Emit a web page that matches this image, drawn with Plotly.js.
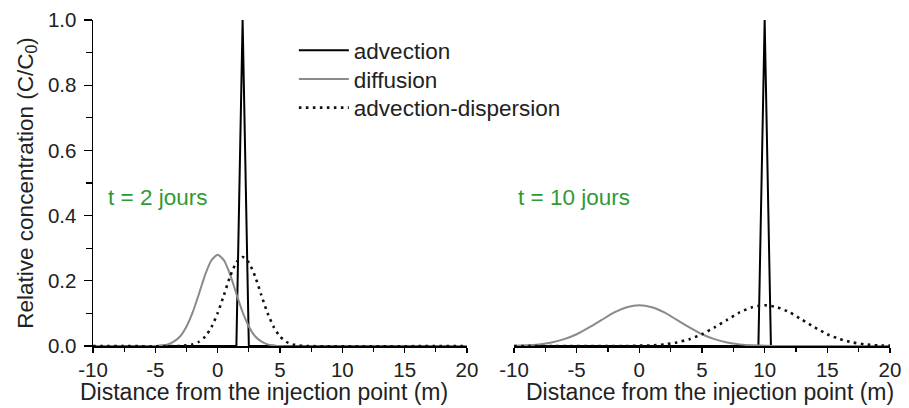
<!DOCTYPE html>
<html>
<head>
<meta charset="utf-8">
<script src="https://cdn.plot.ly/plotly-3.0.1.min.js"></script>
<style>html,body{margin:0;padding:0;background:#fff;}#chart{width:909px;height:408px;}</style>
</head>
<body>
<div id="chart"></div>
<script>
// ---- data ----
var seriesNames = ["advection", "diffusion", "advection-dispersion"];

// t = 2 jours
var adv2X = [-10, 1.5, 2, 2.5, 20];
var adv2Y = [0, 0, 1, 0, 0];
var dif2X = [-10, -5, -4.5, -4, -3.5, -3, -2.5, -2, -1.5, -1, -0.5, 0, 0.5, 1, 1.5, 2, 2.5, 3, 3.5, 4, 4.5, 5, 20];
var dif2Y = [0, 0, 0.002, 0.005, 0.014, 0.030, 0.060, 0.104, 0.160, 0.219, 0.263, 0.280, 0.263, 0.219, 0.160, 0.104, 0.060, 0.030, 0.014, 0.005, 0.002, 0, 0];
var ad2X = [-10, -3, -2.5, -2, -1.5, -1, -0.5, 0, 0.5, 1, 1.5, 2, 2.5, 3, 3.5, 4, 4.5, 5, 5.5, 6, 6.5, 7, 20];
var ad2Y = [0, 0, 0.002, 0.005, 0.013, 0.029, 0.058, 0.101, 0.156, 0.214, 0.256, 0.273, 0.256, 0.214, 0.156, 0.101, 0.058, 0.029, 0.013, 0.005, 0.002, 0, 0];

// t = 10 jours
var adv10X = [-10, 9.5, 10, 10.5, 20];
var adv10Y = [0, 0, 1, 0, 0];
var dif10X = [-10, -9, -8, -7, -6, -5, -4, -3, -2, -1, 0, 1, 2, 3, 4, 5, 6, 7, 8, 9, 10, 11, 20];
var dif10Y = [0.001, 0.002, 0.005, 0.011, 0.021, 0.036, 0.057, 0.080, 0.103, 0.119, 0.125, 0.119, 0.103, 0.080, 0.057, 0.036, 0.021, 0.011, 0.005, 0.002, 0.001, 0, 0];
var ad10X = [-10, -1, 0, 1, 2, 3, 4, 5, 6, 7, 8, 9, 10, 11, 12, 13, 14, 15, 16, 17, 18, 19, 20];
var ad10Y = [0, 0, 0.001, 0.002, 0.005, 0.011, 0.021, 0.036, 0.057, 0.080, 0.103, 0.119, 0.125, 0.119, 0.103, 0.080, 0.057, 0.036, 0.021, 0.011, 0.005, 0.002, 0.001];

var xTickVals = [-10, -5, 0, 5, 10, 15, 20];
var xTickText = ["-10", "-5", "0", "5", "10", "15", "20"];
var yTickVals = [0, 0.2, 0.4, 0.6, 0.8, 1.0];
var yTickText = ["0.0", "0.2", "0.4", "0.6", "0.8", "1.0"];
var panelLabels = ["t = 2 jours", "t = 10 jours"];

// ---- styles ----
var FONT = "Liberation Sans, Arial, sans-serif";
var TXT = 22.5;
var styleAdv = {color: "#000000", width: 2};
var styleDif = {color: "#8a8a8a", width: 2};
var styleAD = {color: "#111111", width: 2.6, dash: "2.6px,4.4px"};

var traces = [
  {x: adv2X, y: adv2Y, xaxis: "x", yaxis: "y", mode: "lines", name: seriesNames[0], line: styleAdv, cliponaxis: false, legend: "legend"},
  {x: dif2X, y: dif2Y, xaxis: "x", yaxis: "y", mode: "lines", name: seriesNames[1], line: Object.assign({shape: "spline", smoothing: 0.6}, styleDif), cliponaxis: false, legend: "legend2"},
  {x: ad2X, y: ad2Y, xaxis: "x", yaxis: "y", mode: "lines", name: seriesNames[2], line: Object.assign({shape: "spline", smoothing: 0.6}, styleAD), cliponaxis: false, legend: "legend3"},
  {x: adv10X, y: adv10Y, xaxis: "x2", yaxis: "y", mode: "lines", name: seriesNames[0], line: styleAdv, showlegend: false, cliponaxis: false},
  {x: dif10X, y: dif10Y, xaxis: "x2", yaxis: "y", mode: "lines", name: seriesNames[1], line: Object.assign({shape: "spline", smoothing: 0.6}, styleDif), showlegend: false, cliponaxis: false},
  {x: ad10X, y: ad10Y, xaxis: "x2", yaxis: "y", mode: "lines", name: seriesNames[2], line: Object.assign({shape: "spline", smoothing: 0.6}, styleAD), showlegend: false, cliponaxis: false}
];

function xAxis(domain) {
  return {
    domain: domain, range: [-10, 20], anchor: "y",
    showgrid: false, zeroline: false,
    showline: true, linecolor: "#000", linewidth: 1.5,
    ticks: "outside", ticklen: 5, tickwidth: 1.3, tickcolor: "#000",
    tickvals: xTickVals, ticktext: xTickText,
    minor: {dtick: 2.5, ticks: "outside", ticklen: 4, tickwidth: 1.2, tickcolor: "#000"},
    tickfont: {family: FONT, size: 20.5, color: "#222"},
    fixedrange: true
  };
}

function legendAt(y) {
  return {
    x: 0.252, y: y, xanchor: "left", yanchor: "middle",
    bgcolor: "rgba(0,0,0,0)", borderwidth: 0,
    font: {family: FONT, size: TXT, color: "#222"},
    tracegroupgap: 0, itemwidth: 50
  };
}

var layout = {
  width: 909, height: 408,
  margin: {l: 93, r: 19, t: 20, b: 62},
  paper_bgcolor: "#fff", plot_bgcolor: "#fff",
  font: {family: FONT, color: "#222"},
  showlegend: true,
  legend: legendAt(0.906),
  legend2: legendAt(0.818),
  legend3: legendAt(0.730),
  xaxis: xAxis([0, 0.4693]),
  xaxis2: xAxis([0.5282, 1]),
  yaxis: {
    domain: [0, 1], range: [0, 1], anchor: "x",
    showgrid: false, zeroline: false,
    showline: true, linecolor: "#000", linewidth: 1.5,
    ticks: "outside", ticklen: 8, tickwidth: 1.3, tickcolor: "#000",
    tickvals: yTickVals, ticktext: yTickText,
    minor: {dtick: 0.1, ticks: "outside", ticklen: 6, tickwidth: 1.2, tickcolor: "#000"},
    tickfont: {family: FONT, size: 20.5, color: "#222"},
    ticklabelstandoff: 3,
    title: {text: "Relative concentration (C/C<sub>0</sub>)", font: {family: FONT, size: TXT, color: "#222"}, standoff: 8},
    fixedrange: true
  },
  annotations: [
    {text: "Distance from the injection point (m)", xref: "x domain", yref: "paper", x: 0.457, y: 0, yshift: -46, xanchor: "center", yanchor: "middle", showarrow: false, font: {family: FONT, size: 23, color: "#222"}},
    {text: "Distance from the injection point (m)", xref: "x2 domain", yref: "paper", x: 0.52, y: 0, yshift: -46, xanchor: "center", yanchor: "middle", showarrow: false, font: {family: FONT, size: 23, color: "#222"}},
    {text: panelLabels[0], xref: "x", yref: "y", x: -8.95, y: 0.455, xanchor: "left", yanchor: "middle", showarrow: false, font: {family: FONT, size: TXT, color: "#2f9a35"}},
    {text: panelLabels[1], xref: "x2", yref: "y", x: -9.8, y: 0.455, xanchor: "left", yanchor: "middle", showarrow: false, font: {family: FONT, size: TXT, color: "#2f9a35"}}
  ]
};

Plotly.newPlot("chart", traces, layout, {displayModeBar: false, staticPlot: true});
</script>
</body>
</html>
